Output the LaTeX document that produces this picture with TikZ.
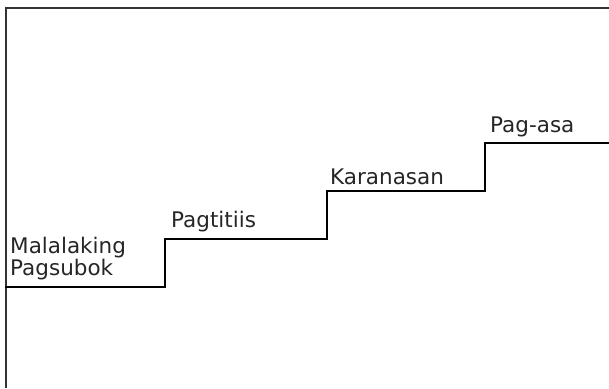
\documentclass[tikz,border=0pt]{standalone}
\usepackage{fontspec}
\setmainfont{DejaVu Sans}
\usepackage{tikz}
\usetikzlibrary{positioning}
\tikzset{stair/.style={line width=2.8pt,line cap=rect,line join=miter},
  frameline/.style={line width=1.8pt,black!80},
  steplabel/.style={anchor=base west,inner sep=0pt,font=\fontsize{21.5}{18}\selectfont,black!85,align=left}}

\begin{document}
\begin{tikzpicture}[x=1pt,y=1pt]
  \useasboundingbox (0,0) rectangle (609,388);

  %% frame
  \draw[frameline] (6,0) -- (6,380) -- (609,380);

  %% step corners
  \coordinate (s0) at (6,101);
  \coordinate (s1) at (165,101);
  \coordinate (s2) at (165,149);
  \coordinate (s3) at (327,149);
  \coordinate (s4) at (327,197);
  \coordinate (s5) at (485,197);
  \coordinate (s6) at (485,245);
  \coordinate (s7) at (609,245);

  \draw[stair] (s0) -- (s1) -- (s2) -- (s3) -- (s4) -- (s5) -- (s6) -- (s7);

  \node[steplabel] (subok) at (10,113) {Malalaking\\Pagsubok}; % base = last line
  \node[steplabel] (titiis) at (171,160) {Pagtitiis};
  \node[steplabel] (karanasan) at (330,203) {Karanasan};
  \node[steplabel] (asa) at (490,255) {Pag-asa};
\end{tikzpicture}
\end{document}
